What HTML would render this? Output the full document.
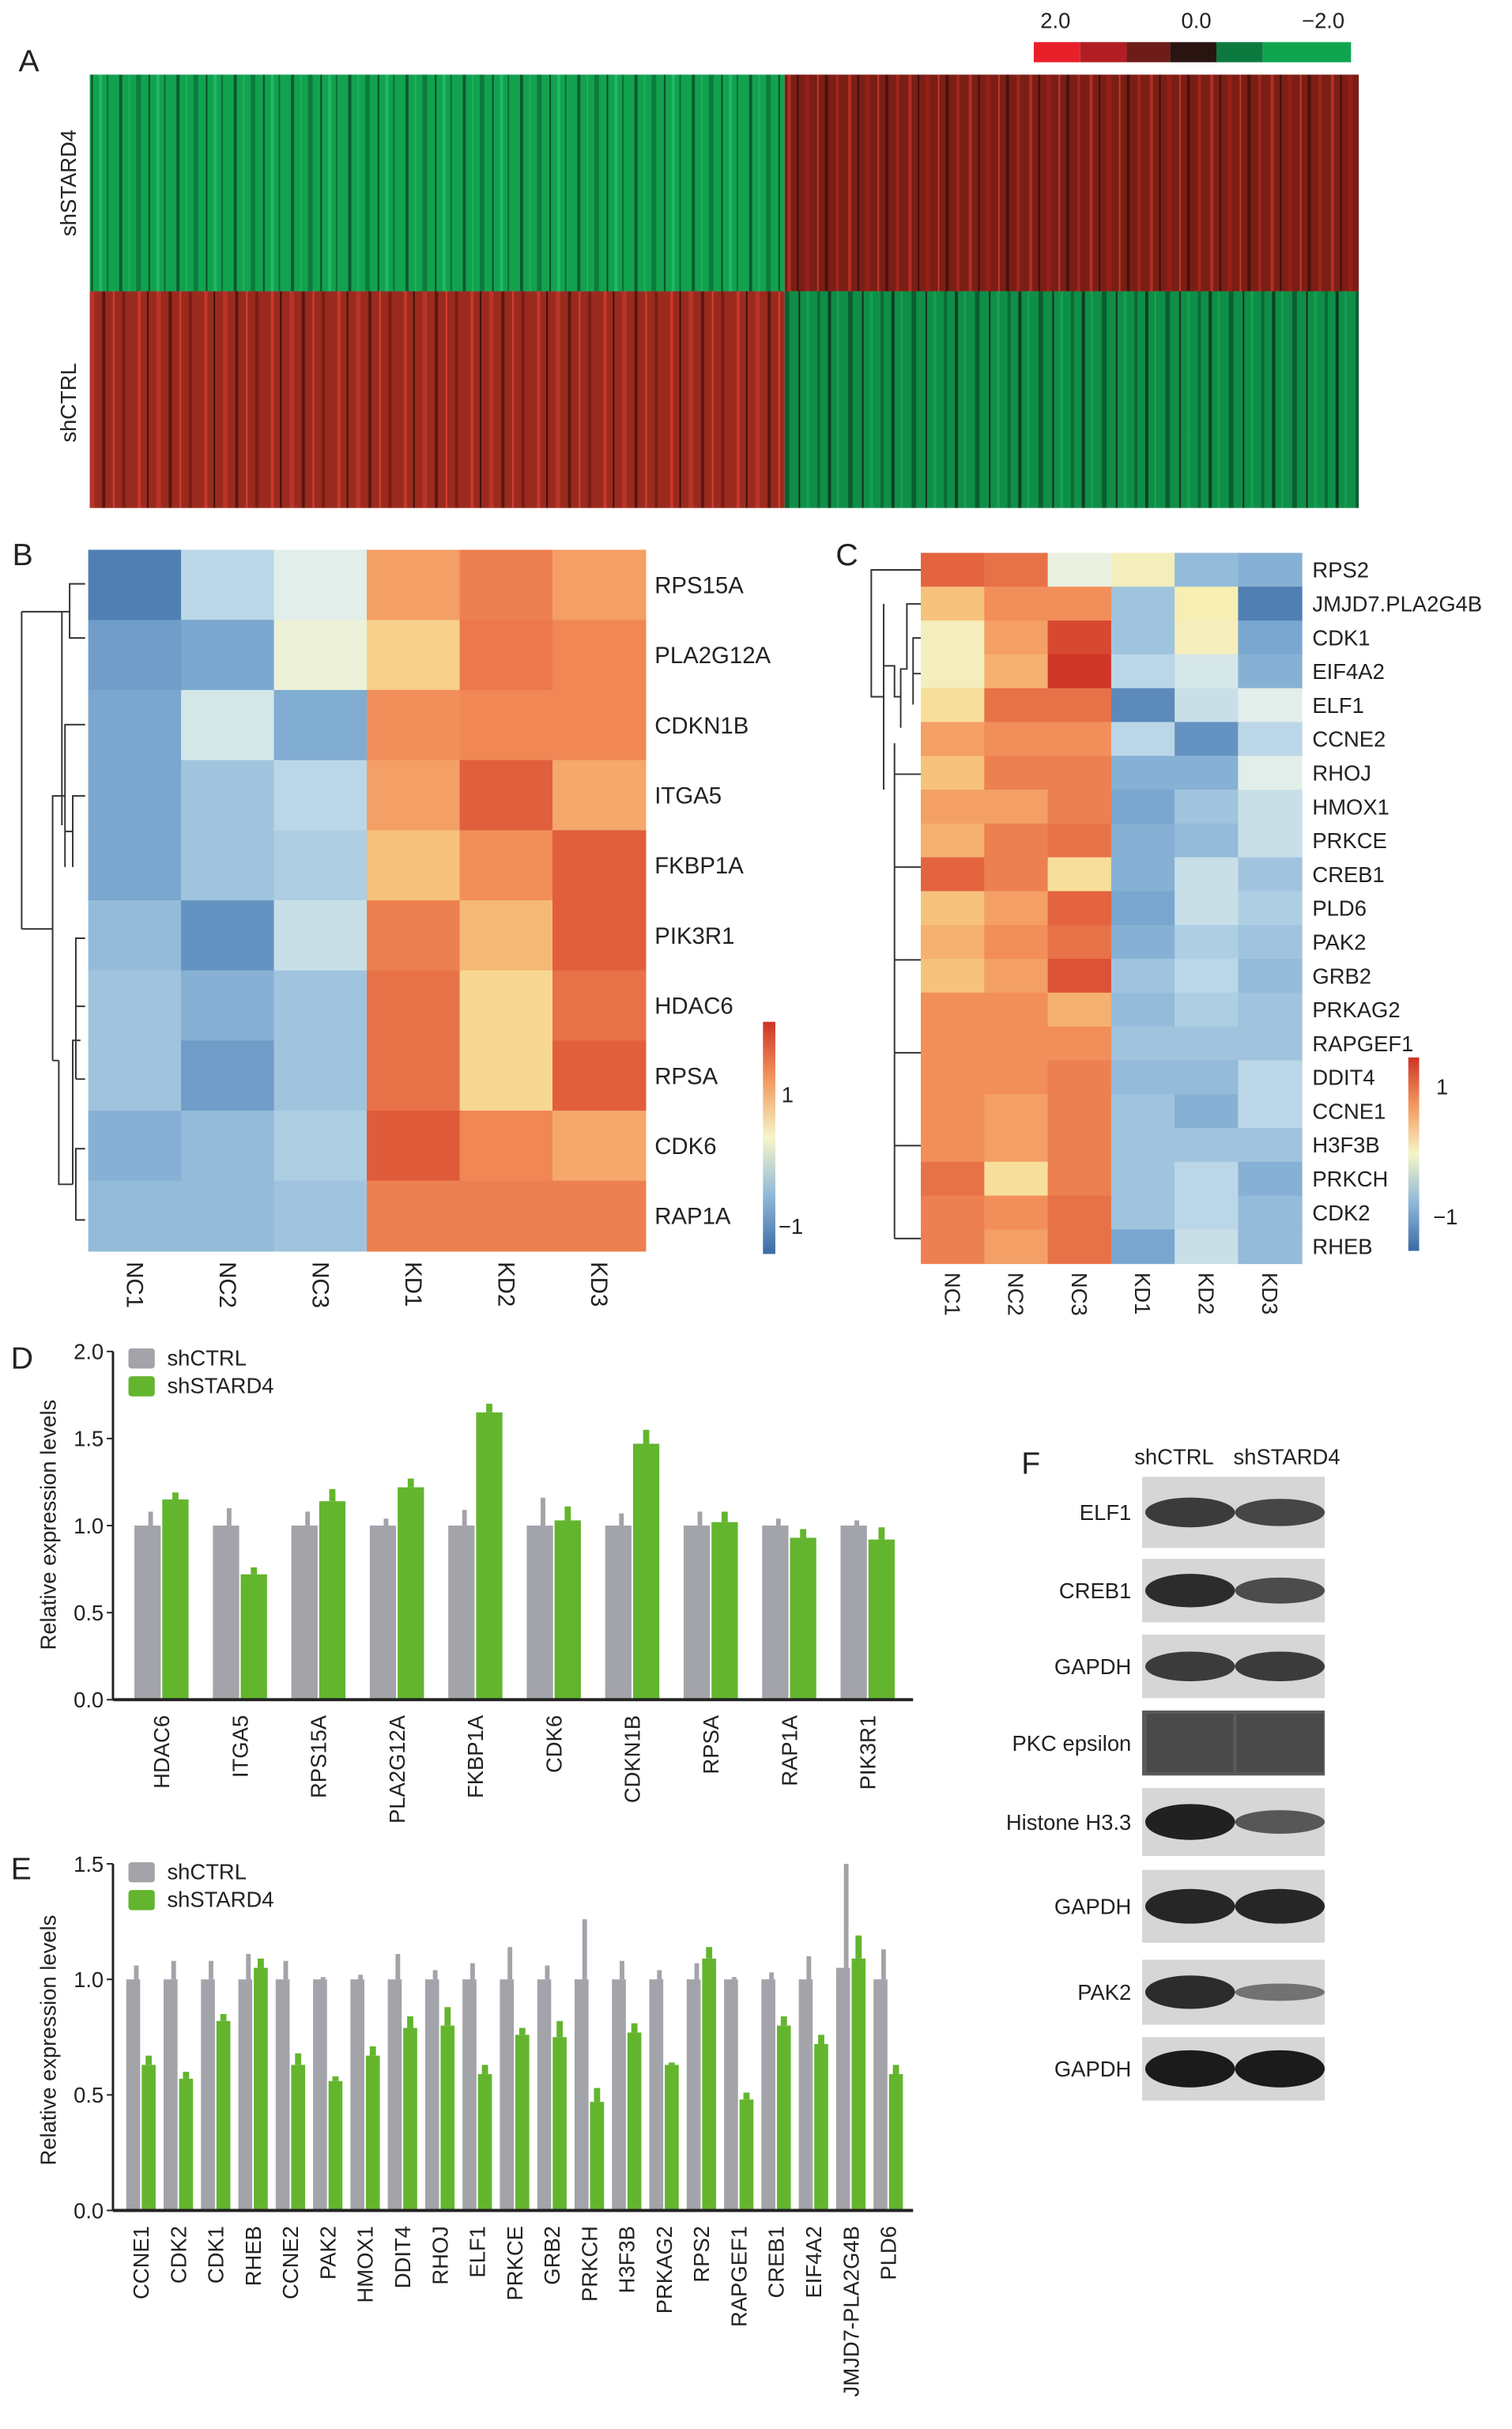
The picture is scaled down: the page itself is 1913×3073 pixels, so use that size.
<!DOCTYPE html>
<html><head><meta charset="utf-8"><style>
html,body{margin:0;padding:0;background:#fff}
svg{display:block}
text{font-family:"Liberation Sans",Arial,sans-serif;fill:#222}
</style></head><body>
<svg id="fig" width="1913" height="3073" viewBox="0 0 977 1569" xmlns="http://www.w3.org/2000/svg">
<defs>
<pattern id="stripesG" width="37" height="50" patternUnits="userSpaceOnUse">
<rect width="37" height="50" fill="#12a24f"/>
<rect x="3" width="2" height="50" fill="#0a5a30"/><rect x="9" width="1" height="50" fill="#1fb060"/>
<rect x="14" width="3" height="50" fill="#0c7a3e"/><rect x="22" width="1" height="50" fill="#064a26"/>
<rect x="27" width="2" height="50" fill="#22b866"/><rect x="32" width="1" height="50" fill="#0b6a36"/>
</pattern>
<pattern id="stripesG2" width="41" height="50" patternUnits="userSpaceOnUse">
<rect width="41" height="50" fill="#0f8e48"/>
<rect x="2" width="2" height="50" fill="#083f22"/><rect x="8" width="1" height="50" fill="#17a456"/>
<rect x="15" width="3" height="50" fill="#0a5e31"/><rect x="24" width="1" height="50" fill="#1a2a1a"/>
<rect x="29" width="2" height="50" fill="#13a050"/><rect x="36" width="2" height="50" fill="#0a6a35"/>
</pattern>
<pattern id="stripesR" width="39" height="50" patternUnits="userSpaceOnUse">
<rect width="39" height="50" fill="#7a1e16"/>
<rect x="2" width="2" height="50" fill="#b22e22"/><rect x="8" width="1" height="50" fill="#3a0e0a"/>
<rect x="13" width="3" height="50" fill="#951f18"/><rect x="21" width="1" height="50" fill="#c43a2a"/>
<rect x="26" width="2" height="50" fill="#4a120c"/><rect x="33" width="2" height="50" fill="#a0261c"/>
</pattern>
<pattern id="stripesR2" width="43" height="50" patternUnits="userSpaceOnUse">
<rect width="43" height="50" fill="#9a2a1e"/>
<rect x="3" width="2" height="50" fill="#c8382a"/><rect x="9" width="1" height="50" fill="#3a100a"/>
<rect x="15" width="3" height="50" fill="#b83426"/><rect x="23" width="2" height="50" fill="#5a160e"/>
<rect x="30" width="1" height="50" fill="#d84030"/><rect x="36" width="2" height="50" fill="#7a1c14"/>
</pattern>
<linearGradient id="legB" x1="0" y1="1" x2="0" y2="0">
<stop offset="0" stop-color="#3b6ba5"/><stop offset="0.25" stop-color="#8fb8d8"/><stop offset="0.5" stop-color="#f6f5c8"/><stop offset="0.75" stop-color="#f29a5f"/><stop offset="1" stop-color="#cf3327"/>
</linearGradient>
</defs>

<!-- Panel A -->
<g>
<text x="12" y="46" font-size="20">A</text>
<rect x="58" y="48" width="449" height="140" fill="url(#stripesG)"/>
<rect x="507" y="48" width="371" height="140" fill="url(#stripesR)"/>
<rect x="58" y="188" width="449" height="140" fill="url(#stripesR2)"/>
<rect x="507" y="188" width="371" height="140" fill="url(#stripesG2)"/>
<text transform="translate(49,118) rotate(-90)" text-anchor="middle" font-size="14">shSTARD4</text>
<text transform="translate(49,260) rotate(-90)" text-anchor="middle" font-size="14">shCTRL</text>
<g>
<rect x="668" y="27" width="30" height="13" fill="#e8202a"/><rect x="698" y="27" width="30" height="13" fill="#b01e24"/>
<rect x="728" y="27" width="28" height="13" fill="#6e1c18"/><rect x="756" y="27" width="30" height="13" fill="#2a1412"/>
<rect x="786" y="27" width="30" height="13" fill="#0c7a3e"/><rect x="816" y="27" width="57" height="13" fill="#0fa54e"/>
<text x="682" y="18" text-anchor="middle" font-size="14">2.0</text>
<text x="773" y="18" text-anchor="middle" font-size="14">0.0</text>
<text x="855" y="18" text-anchor="middle" font-size="14">−2.0</text>
</g>
</g>

<g id="panelB"></g>
<g id="panelC"></g>
<g id="panelD"></g>
<g id="panelE"></g>
<g id="panelF"></g>
</svg>
<script>
const NS="http://www.w3.org/2000/svg";
// ---- Panel B data ----
const bCols=["NC1","NC2","NC3","KD1","KD2","KD3"];
const bRows=["RPS15A","PLA2G12A","CDKN1B","ITGA5","FKBP1A","PIK3R1","HDAC6","RPSA","CDK6","RAP1A"];
const bVals=[
[-1.4,-0.5,-0.2,0.7,0.9,0.7],
[-1.1,-1.0,-0.05,0.4,0.95,0.85],
[-1.0,-0.3,-0.95,0.8,0.85,0.85],
[-1.0,-0.7,-0.5,0.7,1.15,0.65],
[-1.0,-0.7,-0.6,0.5,0.8,1.15],
[-0.8,-1.2,-0.4,0.9,0.55,1.15],
[-0.7,-0.9,-0.7,1.0,0.35,1.0],
[-0.7,-1.1,-0.7,1.0,0.35,1.15],
[-0.9,-0.8,-0.6,1.2,0.85,0.65],
[-0.8,-0.8,-0.7,0.9,0.9,0.9]];
// ---- Panel C data ----
const cCols=["NC1","NC2","NC3","KD1","KD2","KD3"];
const cRows=["RPS2","JMJD7.PLA2G4B","CDK1","EIF4A2","ELF1","CCNE2","RHOJ","HMOX1","PRKCE","CREB1","PLD6","PAK2","GRB2","PRKAG2","RAPGEF1","DDIT4","CCNE1","H3F3B","PRKCH","CDK2","RHEB"];
const cVals=[
[1.1,1.0,-0.1,0.1,-0.8,-0.9],
[0.5,0.8,0.8,-0.7,0.15,-1.4],
[0.1,0.7,1.4,-0.7,0.1,-1.0],
[0.1,0.6,1.6,-0.5,-0.3,-0.9],
[0.3,1.0,1.0,-1.3,-0.4,-0.2],
[0.7,0.8,0.8,-0.5,-1.2,-0.5],
[0.5,0.9,0.9,-0.9,-0.9,-0.2],
[0.7,0.7,0.9,-1.0,-0.7,-0.4],
[0.6,0.9,1.0,-0.9,-0.8,-0.4],
[1.1,0.9,0.3,-0.9,-0.4,-0.7],
[0.5,0.7,1.1,-1.0,-0.4,-0.6],
[0.6,0.8,1.0,-0.9,-0.6,-0.7],
[0.5,0.7,1.3,-0.7,-0.5,-0.8],
[0.8,0.8,0.6,-0.8,-0.6,-0.7],
[0.8,0.8,0.8,-0.7,-0.7,-0.7],
[0.8,0.8,0.9,-0.8,-0.8,-0.5],
[0.8,0.7,0.9,-0.7,-0.9,-0.5],
[0.8,0.7,0.9,-0.7,-0.7,-0.7],
[1.0,0.3,0.9,-0.7,-0.5,-0.9],
[0.9,0.8,1.0,-0.7,-0.5,-0.8],
[0.9,0.7,1.0,-1.0,-0.4,-0.8]];
// ---- Panel D data ----
const dGenes=["HDAC6","ITGA5","RPS15A","PLA2G12A","FKBP1A","CDK6","CDKN1B","RPSA","RAP1A","PIK3R1"];
const dCtrl=[1,1,1,1,1,1,1,1,1,1];
const dCtrlErr=[0.08,0.1,0.08,0.04,0.09,0.16,0.07,0.08,0.04,0.03];
const dKd=[1.15,0.72,1.14,1.22,1.65,1.03,1.47,1.02,0.93,0.92];
const dKdErr=[0.04,0.04,0.07,0.05,0.05,0.08,0.08,0.06,0.05,0.07];
const dTicks=["0.0","0.5","1.0","1.5","2.0"];
// ---- Panel E data ----
const eGenes=["CCNE1","CDK2","CDK1","RHEB","CCNE2","PAK2","HMOX1","DDIT4","RHOJ","ELF1","PRKCE","GRB2","PRKCH","H3F3B","PRKAG2","RPS2","RAPGEF1","CREB1","EIF4A2","JMJD7-PLA2G4B","PLD6"];
const eCtrl=[1,1,1,1,1,1,1,1,1,1,1,1,1,1,1,1,1,1,1,1.05,1];
const eCtrlErr=[0.06,0.08,0.08,0.11,0.08,0.01,0.02,0.11,0.04,0.07,0.14,0.06,0.26,0.08,0.04,0.07,0.01,0.03,0.1,0.45,0.13];
const eKd=[0.63,0.57,0.82,1.05,0.63,0.56,0.67,0.79,0.80,0.59,0.76,0.75,0.47,0.77,0.63,1.09,0.48,0.80,0.72,1.09,0.59];
const eKdErr=[0.04,0.03,0.03,0.04,0.05,0.02,0.04,0.05,0.08,0.04,0.03,0.07,0.06,0.04,0.01,0.05,0.03,0.04,0.04,0.1,0.04];
const eTicks=["0.0","0.5","1.0","1.5"];
// ---- Panel F data ----
const fBlots=["ELF1","CREB1","GAPDH","PKC epsilon","Histone H3.3","GAPDH","PAK2","GAPDH"];
const fCtrlInt=[0.7,0.85,0.7,0.15,0.95,0.9,0.85,1.0];
const fKdInt=[0.6,0.55,0.7,0.12,0.45,0.9,0.2,1.0];

function el(tag,attrs,parent,txt){const e=document.createElementNS(NS,tag);for(const k in attrs)e.setAttribute(k,attrs[k]);if(txt!==undefined)e.textContent=txt;parent.appendChild(e);return e;}
const cstops=[[-1.6,[59,107,165]],[-1.0,[122,167,207]],[-0.55,[180,211,230]],[-0.15,[233,242,234]],[0.2,[248,237,170]],[0.5,[246,194,124]],[0.8,[242,142,89]],[1.1,[227,100,63]],[1.6,[208,54,40]]];
function cmap(v){if(v<=cstops[0][0])return rgb(cstops[0][1]);for(let i=1;i<cstops.length;i++){if(v<=cstops[i][0]){const a=cstops[i-1],b=cstops[i],t=(v-a[0])/(b[0]-a[0]);return rgb(a[1].map((c,j)=>c+(b[1][j]-c)*t));}}return rgb(cstops[cstops.length-1][1]);}
function rgb(a){return "rgb("+a.map(Math.round).join(",")+")";}

function heat(g,cols,rows,vals,x0,y0,w,h,labX,fs,colY){
  const cw=w/cols.length,rh=h/rows.length;
  rows.forEach((r,i)=>{cols.forEach((c,j)=>{
    const rc=el("rect",{x:x0+j*cw,y:y0+i*rh,width:cw+0.5,height:rh+0.5,fill:cmap(vals[i][j])},g);
    
    
  });
  const t=el("text",{x:labX,y:y0+(i+0.5)*rh+fs*0.36,"font-size":fs},g,r);
  
  
  });
  cols.forEach((c,j)=>{const cx=x0+(j+0.5)*cw;
    const t=el("text",{transform:`translate(${cx-5},${colY}) rotate(90)`,"font-size":fs},g,c);
    
    
  });
}
// Panel B
const gB=document.getElementById("panelB");
el("text",{x:8,y:365,"font-size":20},gB,"B");
heat(gB,bCols,bRows,bVals,57,355,360,453,423,15,815);
el("rect",{x:493,y:660,width:8,height:150,fill:"url(#legB)"},gB);
el("text",{x:505,y:712,"font-size":14},gB,"1");
el("text",{x:503,y:797,"font-size":14},gB,"−1");
el("path",{d:"M55,377 H45 V412 H55 M45,395 H40 V533 M55,468 H42 V560 M55,514 H47 V560 M47,537 H42 M42,514 H34 V685 M34,600 H14 M55,606 H49 V697 M49,650 H55 M49,697 H55 M52,672 H47 V765 M55,742 H49 V788 H55 M47,765 H38 V685 M38,685 H34 M14,395 H40 M14,395 V600",fill:"none",stroke:"#333","stroke-width":1},gB);
// Panel C
const gC=document.getElementById("panelC");
el("text",{x:540,y:365,"font-size":20},gC,"C");
heat(gC,cCols,cRows,cVals,595,357,246,459,848,14,822);
el("rect",{x:910,y:683,width:7,height:125,fill:"url(#legB)"},gC);
el("text",{x:928,y:707,"font-size":14},gC,"1");
el("text",{x:926,y:791,"font-size":14},gC,"−1");
el("path",{d:"M595,368 H563 V450 H571 M571,390 V510 M595,390 H586 V432 H582 V470 M582,450 H578 V430 H571 M578,480 V800 M595,412 H590 V455 M595,435 H590 M578,500 H595 M578,560 H595 M578,620 H595 M578,680 H595 M578,740 H595 M578,800 H595",fill:"none",stroke:"#333","stroke-width":1},gC);

function bars(g,genes,ctrl,ctrlErr,kd,kdErr,ticks,y0,unit,gap,bw,off,fs,legY,label,lblY){
  const axX=73,axEnd=590;
  const yS=v=>y0-v*unit;
  const step=(axEnd-axX-10)/genes.length;
  const cx=i=>axX+14+step*(i+0.5)-8;
  ticks.forEach(t=>{const y=yS(parseFloat(t));
    el("line",{x1:axX-4,y1:y,x2:axX,y2:y,stroke:"#222"},g);
    const tt=el("text",{x:axX-6,y:y+5,"text-anchor":"end","font-size":14},g,t);
    
    
  });
  genes.forEach((gn,i)=>{
    const xc=cx(i);
    const gx=xc-off-bw/2, kx=xc+off-bw/2;
    el("line",{x1:xc-off+2,y1:yS(ctrl[i]),x2:xc-off+2,y2:yS(ctrl[i]+ctrlErr[i]),stroke:"#a3a3aa","stroke-width":3},g);
    const gb=el("rect",{x:gx,y:yS(ctrl[i]),width:bw,height:ctrl[i]*unit,fill:"#a3a3aa"},g);
    
    
    el("line",{x1:xc+off,y1:yS(kd[i]),x2:xc+off,y2:yS(kd[i]+kdErr[i]),stroke:"#63b52e","stroke-width":4},g);
    const kb=el("rect",{x:kx,y:yS(kd[i]),width:bw,height:kd[i]*unit,fill:"#63b52e"},g);
    
    
    const t=el("text",{transform:`translate(${xc+5},${y0+10}) rotate(-90)`,"text-anchor":"end","font-size":fs},g,gn);
    
    
  });
  el("line",{x1:axX,y1:yS(parseFloat(ticks[ticks.length-1])),x2:axX,y2:y0,stroke:"#222","stroke-width":1.5},g);
  el("line",{x1:axX,y1:y0,x2:axEnd,y2:y0,stroke:"#222","stroke-width":2},g);
  el("rect",{x:83,y:legY,width:17,height:13,fill:"#a3a3aa",rx:2},g);
  el("text",{x:108,y:legY+11,"font-size":14},g,"shCTRL");
  el("rect",{x:83,y:legY+18,width:17,height:13,fill:"#63b52e",rx:2},g);
  el("text",{x:108,y:legY+29,"font-size":14},g,"shSTARD4");
  el("text",{transform:`translate(36,${lblY}) rotate(-90)`,"text-anchor":"middle","font-size":14},g,"Relative expression levels");
}
const gD=document.getElementById("panelD");
el("text",{x:7,y:884,"font-size":20},gD,"D");
bars(gD,dGenes,dCtrl,dCtrlErr,dKd,dKdErr,dTicks,1098,112.5,0,17,9,14,871,"",985);
const gE=document.getElementById("panelE");
el("text",{x:7,y:1214,"font-size":20},gE,"E");
bars(gE,eGenes,eCtrl,eCtrlErr,eKd,eKdErr,eTicks,1428,149.3,0,9,5,14,1203,"",1318);

// Panel F
const gF=document.getElementById("panelF");
el("text",{x:660,y:952,"font-size":20},gF,"F");
el("text",{x:733,y:946,"font-size":14},gF,"shCTRL");
el("text",{x:797,y:946,"font-size":14},gF,"shSTARD4");
const fY=[954,1007,1056,1105,1155,1208,1266,1316];
const fH=[46,41,41,42,44,47,42,41];
fBlots.forEach((b,i)=>{
  const y=fY[i],h=fH[i];
  const r=el("rect",{x:738,y:y,width:118,height:h,fill:i===3?"#5a5a5a":"#d6d6d6"},gF);
  
  
  const t=el("text",{x:731,y:y+h/2+5,"text-anchor":"end","font-size":14},gF,b);
  
  
  [[769,fCtrlInt[i]],[827,fKdInt[i]]].forEach(([cx,v])=>{
    if(i===3){el("rect",{x:cx-28,y:y+2,width:56,height:h-4,fill:"#333",opacity:0.4},gF);return;}
    const bnd=el("ellipse",{cx:cx,cy:y+h/2,rx:29,ry:4+v*8,fill:"#111",opacity:0.4+v*0.55},gF);
    
    
  });
});
</script>
</body></html>
